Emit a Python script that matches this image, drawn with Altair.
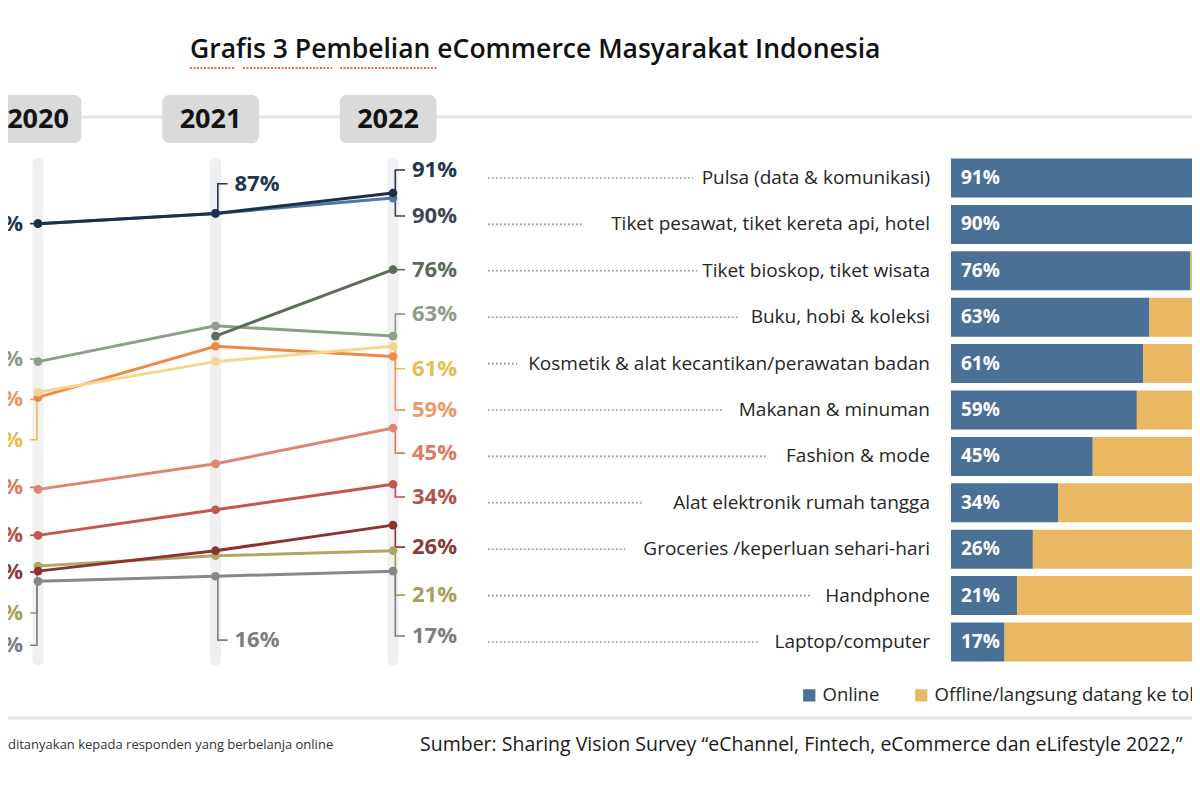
import altair as alt
import pandas as pd

# ---------------- data ----------------
categories = [
    "Pulsa (data & komunikasi)",
    "Tiket pesawat, tiket kereta api, hotel",
    "Tiket bioskop, tiket wisata",
    "Buku, hobi & koleksi",
    "Kosmetik & alat kecantikan/perawatan badan",
    "Makanan & minuman",
    "Fashion & mode",
    "Alat elektronik rumah tangga",
    "Groceries /keperluan sehari-hari",
    "Handphone",
    "Laptop/computer",
]
years = [2020, 2021, 2022]
online_2020 = [85, 85, None, 58, 52, 51, 33, 24, 17, 18, 15]
online_2021 = [87, 87, 63, 65, 58, 61, 38, 29, 21, 20, 16]
online_2022 = [91, 90, 76, 63, 61, 59, 45, 34, 26, 21, 17]
legend_labels = ["Online", "Offline/langsung datang ke toko"]
legend_colors = ["#4a7096", "#eab862"]

line_colors = ["#1c2f47", "#4b78a6", "#5b6c59", "#8c9f88", "#f3d78c", "#ee8a45",
               "#dc8670", "#c2574d", "#8c3232", "#b0a862", "#85878b"]
label_colors = ["#1f3550", "#3a4758", "#5b6b59", "#8c9c88", "#e3bf4f", "#e99a6b",
                "#d77c66", "#b4524a", "#8a3a3a", "#a59f57", "#7c7e84"]

# labelled points: (category index, year, label anchor in % units)
labelled = [
    (0, 2022, 95.5), (1, 2022, 86.5), (2, 2022, 76.0), (3, 2022, 67.3),
    (4, 2022, 56.6), (5, 2022, 48.5), (6, 2022, 40.1), (7, 2022, 31.5),
    (8, 2022, 21.7), (9, 2022, 12.3), (10, 2022, 4.3),
    (0, 2021, 92.8), (10, 2021, 3.5),
    (0, 2020, 85.0), (3, 2020, 58.5), (5, 2020, 50.6), (4, 2020, 42.7),
    (6, 2020, 33.4), (7, 2020, 24.0), (8, 2020, 16.8), (9, 2020, 8.8),
    (10, 2020, 2.5),
]
# where each dotted leader in front of a category name stops (page px)
dot_end = [693, 582, 697, 740, 517, 723, 768, 642, 625, 810, 758]
# horizontal shift of each year caption relative to its column (in years)
year_caption_shift = [0.0, -0.028, -0.028]

title = "Grafis 3 Pembelian eCommerce Masyarakat Indonesia"
footnote = "ditanyakan kepada responden yang berbelanja online"
source = "Sumber: Sharing Vision Survey \u201ceChannel, Fintech, eCommerce dan eLifestyle 2022,\u201d"

# ---------------- layout helpers ----------------
M = 8  # page margin


def px(v):
    return v - M


W, H = 1184, 784
FONT = "Open Sans"

x_year = alt.Scale(domain=[2020, 2022], range=[px(38), px(393)])
y_pct = alt.Scale(domain=[0, 100], range=[px(658), px(147)], nice=False, zero=False)
x_bar = alt.Scale(domain=[0, 100], range=[px(951), px(1266)], nice=False)
y_bar = alt.Scale(domain=categories, range=[px(154.8), px(665.2)],
                  paddingInner=0.16, paddingOuter=0.08)

vals = {2020: online_2020, 2021: online_2021, 2022: online_2022}

# ---------------- tables ----------------
line_rows = []
for i in reversed(range(len(categories))):
    for y in years:
        v = vals[y][i]
        if v is None:
            continue
        line_rows.append({"cat": categories[i], "k": f"{10 - i:02d}", "year": y,
                          "v": v, "col": line_colors[i]})
df_line = pd.DataFrame(line_rows)

lead_rows, lab_rows = [], []
for n, (i, y, lv) in enumerate(labelled):
    v = vals[y][i]
    side = -1 if y == 2020 else 1
    xv = y + side * (0.006 if y == 2020 else 0.013)
    xe = y + side * (0.045 if y == 2020 else 0.068)
    for s, (xx, vv) in enumerate([(xv, v), (xv, lv), (xe, lv)]):
        lead_rows.append({"id": n, "seq": s, "x": xx, "v": vv, "col": label_colors[i]})
    lab_rows.append({"year": y, "lv": lv, "t": f"{v}%", "col": label_colors[i],
                     "side": "L" if y == 2020 else "R"})
df_lead = pd.DataFrame(lead_rows)
df_lab = pd.DataFrame(lab_rows)

df_year = pd.DataFrame({"year": years,
                        "left": [y - 0.30 for y in years],
                        "right": [y + 0.245 for y in years],
                        "mid": [y + s for y, s in zip(years, year_caption_shift)],
                        "t": [str(y) for y in years]})

bar_rows = []
for i, c in enumerate(categories):
    v = online_2022[i]
    bar_rows.append({"cat": c, "type": legend_labels[0], "start": 0, "end": v, "t": f"{v}%"})
    bar_rows.append({"cat": c, "type": legend_labels[1], "start": v, "end": 100, "t": ""})
df_bar = pd.DataFrame(bar_rows)
df_online = df_bar[df_bar["type"] == legend_labels[0]]

df_cat = pd.DataFrame({"cat": categories, "start": [px(488)] * len(categories),
                       "end": [px(e) for e in dot_end]})

# ---------------- layers ----------------
one = pd.DataFrame({"a": [0]})

header_line = alt.Chart(one).mark_rule(color="#e6e6e6", strokeWidth=3).encode(
    x=alt.value(0), x2=alt.value(W), y=alt.value(px(117)))

bands = alt.Chart(df_year).mark_rule(color="#f0f0f0", strokeWidth=11, strokeCap="round").encode(
    x=alt.X("year:Q", scale=x_year, axis=None), y=alt.value(px(163)), y2=alt.value(px(660)))

boxes = alt.Chart(df_year).mark_rect(color="#dadada", cornerRadius=7).encode(
    x=alt.X("left:Q", scale=x_year, axis=None), x2="right:Q",
    y=alt.value(px(95)), y2=alt.value(px(143)))

year_txt = alt.Chart(df_year).mark_text(font=FONT, fontSize=27, fontWeight="bold",
                                        color="#141414", baseline="middle").encode(
    x=alt.X("mid:Q", scale=x_year, axis=None), y=alt.value(px(120)), text="t:N")

leaders = alt.Chart(df_lead).mark_line(strokeWidth=1.6).encode(
    x=alt.X("x:Q", scale=x_year, axis=None),
    y=alt.Y("v:Q", scale=y_pct, axis=None),
    detail="id:N", order="seq:Q",
    color=alt.Color("col:N", scale=None))

lines = alt.Chart(df_line).mark_line(strokeWidth=3).encode(
    x=alt.X("year:Q", scale=x_year, axis=None),
    y=alt.Y("v:Q", scale=y_pct, axis=None),
    detail="k:N", order="year:Q",
    color=alt.Color("col:N", scale=None))

points = alt.Chart(df_line).mark_circle(size=75, opacity=1).encode(
    x=alt.X("year:Q", scale=x_year, axis=None),
    y=alt.Y("v:Q", scale=y_pct, axis=None),
    color=alt.Color("col:N", scale=None))

lab_r = alt.Chart(df_lab[df_lab["side"] == "R"]).mark_text(
    font=FONT, fontSize=22, fontWeight="bold", align="left", baseline="middle", dx=19).encode(
    x=alt.X("year:Q", scale=x_year, axis=None),
    y=alt.Y("lv:Q", scale=y_pct, axis=None),
    text="t:N", color=alt.Color("col:N", scale=None))

lab_l = alt.Chart(df_lab[df_lab["side"] == "L"]).mark_text(
    font=FONT, fontSize=22, fontWeight="bold", align="right", baseline="middle", dx=-15).encode(
    x=alt.X("year:Q", scale=x_year, axis=None),
    y=alt.Y("lv:Q", scale=y_pct, axis=None),
    text="t:N", color=alt.Color("col:N", scale=None))

dots = alt.Chart(df_cat).mark_rule(color="#8a8a8a", strokeWidth=1.6, strokeDash=[1.6, 2.4]).encode(
    x=alt.X("start:Q", scale=None), x2="end:Q",
    y=alt.Y("cat:N", scale=y_bar, axis=None, bandPosition=0.5))

cat_txt = alt.Chart(df_cat).mark_text(font=FONT, fontSize=19, color="#262626",
                                      align="right", baseline="middle").encode(
    x=alt.value(px(930)),
    y=alt.Y("cat:N", scale=y_bar, axis=None),
    text="cat:N")

bars = alt.Chart(df_bar).mark_bar(clip=True).encode(
    x=alt.X("start:Q", scale=x_bar, axis=None), x2="end:Q",
    y=alt.Y("cat:N", scale=y_bar, axis=None),
    color=alt.Color("type:N", scale=alt.Scale(domain=legend_labels, range=legend_colors),
                    legend=alt.Legend(orient="none", legendX=px(800), legendY=px(686),
                                      direction="horizontal", title=None,
                                      symbolType="square", symbolSize=150,
                                      symbolStrokeWidth=0, labelFont=FONT,
                                      labelFontSize=18.5, labelColor="#262626",
                                      columnPadding=32, labelOffset=4, labelLimit=600)))

bar_txt = alt.Chart(df_online).mark_text(font=FONT, fontSize=19, fontWeight="bold",
                                         color="white", align="left", baseline="middle",
                                         dx=10).encode(
    x=alt.X("start:Q", scale=x_bar, axis=None),
    y=alt.Y("cat:N", scale=y_bar, axis=None),
    text="t:N")

title_txt = alt.Chart(pd.DataFrame({"t": [title]})).mark_text(
    font=FONT, fontSize=26.5, fontWeight=600, color="#111111", align="left",
    baseline="middle").encode(x=alt.value(px(190)), y=alt.value(px(50)), text="t:N")

squiggle = alt.Chart(pd.DataFrame({"a": [190, 243, 340], "b": [235, 332, 437]})).mark_rule(
    color="#d23a2a", strokeWidth=1.4, strokeDash=[2, 1.5]).encode(
    x=alt.X("a:Q", scale=alt.Scale(domain=[M, W + M], range=[0, W]), axis=None),
    x2="b:Q", y=alt.value(px(68)))

sep = alt.Chart(one).mark_rule(color="#e3e3e3", strokeWidth=3).encode(
    x=alt.value(0), x2=alt.value(W), y=alt.value(px(718)))

foot_txt = alt.Chart(pd.DataFrame({"t": [footnote]})).mark_text(
    font=FONT, fontSize=13, color="#333333", align="left", baseline="middle").encode(
    x=alt.value(0), y=alt.value(px(745)), text="t:N")

src_txt = alt.Chart(pd.DataFrame({"t": [source]})).mark_text(
    font=FONT, fontSize=19.5, color="#1a1a1a", align="left", baseline="middle").encode(
    x=alt.value(px(420)), y=alt.value(px(745)), text="t:N")

chart = alt.layer(
    header_line, bands, boxes, year_txt, leaders, lines, points, lab_r, lab_l,
    dots, cat_txt, bars, bar_txt, title_txt, squiggle, sep, foot_txt, src_txt,
).resolve_scale(x="independent", y="independent", color="independent").properties(
    width=W, height=H, padding=0, background="white",
    autosize=alt.AutoSizeParams(type="none"),
).configure_view(stroke=None)

chart.save("out.html", embed_options={"renderer": "svg", "actions": False})
